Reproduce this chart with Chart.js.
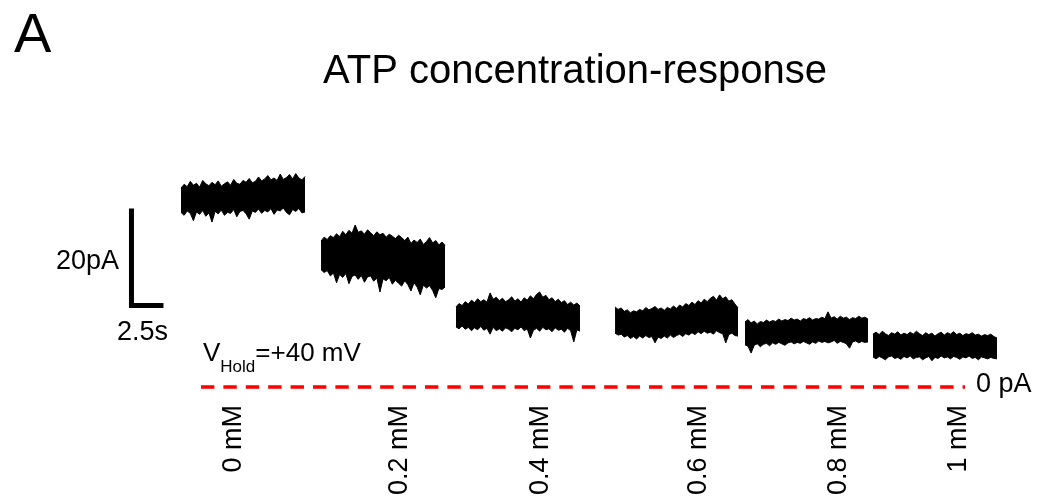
<!DOCTYPE html>
<html>
<head>
<meta charset="utf-8">
<title>ATP concentration-response</title>
<script src="https://cdn.jsdelivr.net/npm/chart.js@4.4.1/dist/chart.umd.min.js"></script>
<style>
  html, body { margin: 0; padding: 0; background: #ffffff; }
  canvas { display: block; }
</style>
</head>
<body>
<canvas id="chart" width="1037" height="501"></canvas>
<script>
// ATP concentrations applied, one sweep each
const concentrations = ['0 mM', '0.2 mM', '0.4 mM', '0.6 mM', '0.8 mM', '1 mM'];

// Sweep start / end times on the shared time axis (s)
const sweepStart = [0, 10.94, 21.48, 33.91, 44.06, 54.06];
const sweepEnd   = [9.69, 20.63, 31.17, 43.52, 53.67, 63.75];

// Noise envelope of each current sweep (pA): upper and lower edge
const upper_0mM = [41.0, 41.8, 41.3, 42.4, 41.6, 42.0, 41.2, 42.6, 41.9, 41.5,
                   42.2, 41.7, 42.5, 41.4, 41.9, 42.3, 41.6, 42.8, 42.0, 41.8,
                   42.6, 42.2, 43.0, 42.1, 42.4, 43.3, 42.5, 42.9, 43.6, 42.7,
                   43.1, 42.6, 43.9, 42.8, 43.2, 43.8, 42.9, 44.0, 43.1, 42.7, 43.4];
const lower_0mM = [36.0, 35.4, 36.3, 35.8, 34.3, 36.1, 35.6, 36.4, 35.2, 35.9,
                   34.0, 36.2, 35.7, 36.5, 35.4, 36.0, 35.8, 36.6, 35.1, 36.2,
                   36.4, 35.7, 34.6, 36.3, 36.0, 36.7, 35.8, 36.4, 36.1, 36.8,
                   35.6, 36.5, 36.3, 36.9, 36.0, 35.5, 36.6, 36.2, 36.8, 35.9, 36.1];

const upper_02mM = [30.1, 30.9, 30.4, 31.2, 30.8, 31.6, 31.0, 32.1, 31.4, 32.3,
                    31.7, 33.4, 31.9, 32.2, 31.5, 32.4, 31.8, 31.2, 32.0, 31.4,
                    31.7, 30.9, 31.5, 31.1, 30.6, 31.3, 30.8, 30.2, 30.9, 29.6,
                    30.3, 29.8, 30.5, 29.4, 30.0, 30.8, 29.7, 30.2, 29.3, 29.9, 29.2];
const lower_02mM = [24.2, 23.6, 24.0, 22.9, 23.5, 21.5, 23.2, 22.6, 23.4, 21.3,
                    22.8, 23.1, 22.2, 23.0, 21.6, 22.7, 22.9, 21.8, 22.5, 19.6,
                    22.3, 21.9, 22.6, 21.2, 22.0, 21.4, 20.8, 21.9, 21.1, 19.8,
                    21.5, 20.6, 19.0, 21.0, 20.4, 20.9, 19.9, 18.4, 20.3, 20.1, 20.6];

const upper_04mM = [16.5, 17.2, 16.8, 17.6, 17.1, 17.9, 17.4, 18.2, 17.6, 18.0,
                    17.5, 19.4, 18.1, 18.5, 17.8, 18.3, 17.6, 18.0, 18.6, 17.7,
                    18.2, 17.5, 18.4, 17.9, 18.8, 18.2, 19.1, 19.6, 18.5, 18.9,
                    18.0, 18.4, 17.6, 18.1, 17.4, 17.8, 17.0, 17.5, 16.9, 17.3, 16.7];
const lower_04mM = [12.4, 12.0, 12.6, 11.9, 12.3, 11.6, 12.2, 11.8, 12.5, 11.7,
                    12.1, 10.9, 12.3, 11.6, 12.0, 11.5, 12.2, 11.9, 11.4, 12.1,
                    11.8, 12.4, 11.6, 12.0, 10.1, 11.7, 12.1, 11.5, 12.3, 11.8,
                    12.0, 11.4, 12.2, 11.7, 11.9, 11.3, 12.1, 11.6, 9.3, 11.8, 11.5];

const upper_06mM = [16.5, 16.0, 16.3, 15.6, 15.9, 15.3, 15.7, 15.5, 16.0, 15.7,
                    16.4, 15.9, 16.2, 16.6, 16.0, 16.3, 15.8, 16.4, 16.1, 16.7,
                    16.2, 16.9, 16.5, 17.2, 16.8, 17.5, 17.0, 17.8, 17.3, 18.1,
                    17.6, 18.3, 18.7, 17.9, 19.0, 18.2, 18.6, 17.7, 18.0, 17.1, 16.3];
const lower_06mM = [11.1, 10.7, 10.9, 10.3, 10.6, 10.0, 10.4, 9.9, 10.5, 10.1,
                    10.6, 10.2, 10.4, 9.1, 10.3, 10.0, 10.5, 10.1, 10.7, 10.2,
                    10.6, 10.9, 10.4, 11.0, 10.7, 11.2, 10.8, 11.4, 11.0, 11.5,
                    11.1, 11.3, 10.9, 11.6, 11.2, 11.0, 9.1, 10.8, 11.1, 10.6, 10.5];

const upper_08mM = [13.4, 13.9, 13.2, 13.6, 13.0, 13.5, 13.3, 13.8, 13.4, 13.7,
                    13.5, 14.0, 13.6, 13.9, 13.7, 14.2, 13.8, 14.0, 13.6, 14.1,
                    13.9, 14.3, 13.8, 14.1, 14.0, 14.4, 14.1, 15.5, 14.2, 14.5,
                    14.0, 14.6, 14.2, 14.4, 13.9, 14.3, 14.1, 14.6, 14.2, 14.4, 14.0];
const lower_08mM = [8.7, 8.4, 7.0, 8.6, 8.9, 8.3, 8.8, 9.0, 8.5, 9.1,
                    8.8, 9.2, 8.9, 8.6, 9.1, 9.3, 8.9, 9.2, 9.0, 9.4,
                    9.1, 8.8, 9.3, 9.0, 9.5, 9.2, 9.4, 9.1, 9.3, 9.6,
                    9.0, 9.4, 9.2, 8.9, 8.0, 9.3, 9.5, 9.1, 9.4, 9.2, 9.3];

const upper_1mM = [10.9, 11.3, 10.8, 11.5, 11.0, 10.6, 11.2, 10.9, 11.4, 10.7,
                   11.1, 10.8, 11.3, 10.9, 11.5, 11.0, 10.6, 11.2, 10.8, 11.1,
                   10.5, 11.0, 11.3, 10.7, 11.2, 10.9, 11.4, 10.8, 11.1, 10.6,
                   11.0, 10.8, 11.2, 10.7, 10.9, 10.5, 10.8, 10.6, 10.9, 10.4, 10.1];
const lower_1mM = [6.2, 5.8, 6.3, 6.0, 5.6, 6.2, 6.4, 5.9, 6.1, 5.7,
                   6.3, 6.0, 6.4, 5.8, 6.1, 6.2, 5.6, 6.0, 6.3, 5.4,
                   6.1, 5.9, 6.4, 6.0, 6.2, 5.8, 6.3, 6.1, 5.7, 6.2,
                   6.0, 6.4, 5.9, 6.1, 5.6, 6.2, 6.0, 5.8, 6.1, 5.9, 5.8];

// Scale bar sizes and the zero-current reference level
const scaleBarCurrent = 20;   // pA
const scaleBarTime = 2.5;     // s
const zeroCurrent = 0;        // pA
const holdingPotential = '+40 mV';

const upperEdges = [upper_0mM, upper_02mM, upper_04mM, upper_06mM, upper_08mM, upper_1mM];
const lowerEdges = [lower_0mM, lower_02mM, lower_04mM, lower_06mM, lower_08mM, lower_1mM];

// ---- layout ----
const W = 1037, H = 501;
const PX_PER_S = 12.8;        // horizontal resolution of the figure
const PX_PER_PA = 4.85;       // vertical resolution of the figure
const ORIGIN_X = 181;         // pixel of t = 0
const ORIGIN_Y = 387;         // pixel of 0 pA
const FONT = '"Liberation Sans", Arial, Helvetica, sans-serif';

const scaleBarCorner = { t: -3.87, pA: 16.8 };
const zeroLineSpan = [1.56, 61.25];
const labelCenters = [234, 400, 541, 699, 839, 959];

function sweepPoints(values, i) {
  const n = values.length;
  const dt = (sweepEnd[i] - sweepStart[i]) / (n - 1);
  return values.map((v, k) => ({ x: sweepStart[i] + k * dt, y: v }));
}

const datasets = [];
upperEdges.forEach((up, i) => {
  datasets.push({
    label: concentrations[i] + ' upper',
    data: sweepPoints(up, i),
    borderColor: '#000', borderWidth: 1, pointRadius: 0, tension: 0, fill: false
  });
  datasets.push({
    label: concentrations[i] + ' lower',
    data: sweepPoints(lowerEdges[i], i),
    borderColor: '#000', borderWidth: 1, pointRadius: 0, tension: 0,
    backgroundColor: '#000', fill: '-1'
  });
});

// L-shaped scale bar
datasets.push({
  label: 'scale bar',
  data: [
    { x: scaleBarCorner.t, y: scaleBarCorner.pA + scaleBarCurrent },
    { x: scaleBarCorner.t, y: scaleBarCorner.pA },
    { x: scaleBarCorner.t + scaleBarTime, y: scaleBarCorner.pA }
  ],
  borderColor: '#000', borderWidth: 5, pointRadius: 0, tension: 0, fill: false,
  borderJoinStyle: 'miter', borderCapStyle: 'butt'
});

// dashed zero-current reference
datasets.push({
  label: 'zero current',
  data: [{ x: zeroLineSpan[0], y: zeroCurrent }, { x: zeroLineSpan[1], y: zeroCurrent }],
  borderColor: '#ff0000', borderWidth: 3.5, borderDash: [13.4, 9],
  pointRadius: 0, fill: false, borderCapStyle: 'butt'
});

const textPlugin = {
  id: 'figureText',
  afterDatasetsDraw(chart) {
    const ctx = chart.ctx;
    const ys = chart.scales.y;
    ctx.save();
    ctx.fillStyle = '#000';

    // panel letter
    ctx.font = '56px ' + FONT;
    ctx.textAlign = 'left';
    ctx.textBaseline = 'alphabetic';
    ctx.fillText('A', 14, 52);

    // title
    ctx.font = '40px ' + FONT;
    ctx.textAlign = 'center';
    ctx.fillText('ATP concentration-response', 575, 83);

    // scale bar labels
    ctx.font = '27px ' + FONT;
    ctx.textAlign = 'right';
    ctx.textBaseline = 'middle';
    ctx.fillText(scaleBarCurrent + 'pA', 119, 262);
    ctx.textAlign = 'left';
    ctx.fillText(scaleBarTime + 's', 117, 333);

    // holding potential
    ctx.textBaseline = 'alphabetic';
    let x = 203;
    ctx.font = '26px ' + FONT;
    ctx.fillText('V', x, 361);
    x += ctx.measureText('V').width;
    ctx.font = '17px ' + FONT;
    ctx.fillText('Hold', x, 372);
    x += ctx.measureText('Hold').width;
    ctx.font = '26px ' + FONT;
    ctx.fillText('=' + holdingPotential, x, 361);

    // zero-current label
    ctx.font = '27px ' + FONT;
    ctx.textBaseline = 'middle';
    ctx.fillText(zeroCurrent + ' pA', 976, ys.getPixelForValue(zeroCurrent) - 2);

    // concentration labels, rotated
    ctx.textAlign = 'right';
    concentrations.forEach((c, i) => {
      ctx.save();
      ctx.translate(labelCenters[i], 405);
      ctx.rotate(-Math.PI / 2);
      ctx.fillText(c, 0, 0);
      ctx.restore();
    });
    ctx.restore();
  }
};

new Chart(document.getElementById('chart'), {
  type: 'line',
  data: { datasets },
  options: {
    responsive: false,
    animation: false,
    devicePixelRatio: 1,
    events: [],
    layout: { padding: 0 },
    plugins: { legend: { display: false }, tooltip: { enabled: false }, title: { display: false } },
    scales: {
      x: { type: 'linear', display: false, min: -ORIGIN_X / PX_PER_S, max: (W - ORIGIN_X) / PX_PER_S },
      y: { type: 'linear', display: false, min: -(H - ORIGIN_Y) / PX_PER_PA, max: ORIGIN_Y / PX_PER_PA }
    }
  },
  plugins: [textPlugin]
});
</script>
</body>
</html>
